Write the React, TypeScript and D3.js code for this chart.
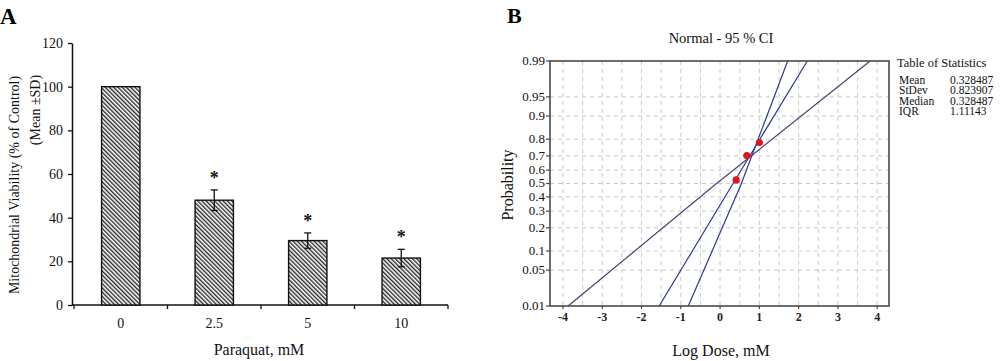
import React, { useEffect, useRef } from "react";
import * as d3 from "d3";

// panel A: mitochondrial viability
const doses = ["0", "2.5", "5", "10"];
const viability = [100, 48, 29.5, 21.5];
const viabilitySd = [0, 4.7, 3.5, 4];
const significant = [false, true, true, true];
const viabilityTicks = [0, 20, 40, 60, 80, 100, 120];

// panel B: normal probability plot
const probTicks = [0.01, 0.05, 0.1, 0.2, 0.3, 0.4, 0.5, 0.6, 0.7, 0.8, 0.9, 0.95, 0.99];
const logDoseTicks = [-4, -3, -2, -1, 0, 1, 2, 3, 4];
const fitDose = [-1.55, 0.33, 2.22];
const fitProb = [0.01, 0.5, 0.99];
const ciSteepDose = [-0.81, 0.53, 1.72];
const ciSteepProb = [0.01, 0.49, 0.99];
const ciWideDose = [-3.87, -0.13, 3.82];
const ciWideProb = [0.01, 0.49, 0.99];
const pointDose = [0.41, 0.68, 1.0];
const pointProb = [0.527, 0.702, 0.782];
const statNames = ["Mean", "StDev", "Median", "IQR"];
const statValues = ["0.328487", "0.823907", "0.328487", "1.11143"];

const FONT = "'Liberation Serif', 'DejaVu Serif', serif";

// inverse normal CDF (Acklam)
const probit = (p: number) => {
  const a = [-39.6968302866538, 220.946098424521, -275.928510446969, 138.357751867269, -30.6647980661472, 2.50662827745924];
  const b = [-54.4760987982241, 161.585836858041, -155.698979859887, 66.8013118877197, -13.2806815528857];
  const c = [-0.00778489400243029, -0.322396458041136, -2.40075827716184, -2.54973253934373, 4.37466414146497, 2.93816398269878];
  const d = [0.00778469570904146, 0.32246712907004, 2.445134137143, 3.75440866190742];
  const pl = 0.02425;
  if (p < pl) {
    const q = Math.sqrt(-2 * Math.log(p));
    return (((((c[0] * q + c[1]) * q + c[2]) * q + c[3]) * q + c[4]) * q + c[5]) / ((((d[0] * q + d[1]) * q + d[2]) * q + d[3]) * q + 1);
  }
  if (p > 1 - pl) {
    const q = Math.sqrt(-2 * Math.log(1 - p));
    return -(((((c[0] * q + c[1]) * q + c[2]) * q + c[3]) * q + c[4]) * q + c[5]) / ((((d[0] * q + d[1]) * q + d[2]) * q + d[3]) * q + 1);
  }
  const q = p - 0.5;
  const r = q * q;
  return ((((((a[0] * r + a[1]) * r + a[2]) * r + a[3]) * r + a[4]) * r + a[5]) * q) / (((((b[0] * r + b[1]) * r + b[2]) * r + b[3]) * r + b[4]) * r + 1);
};

const App = () => {
  const ref = useRef<SVGSVGElement>(null);

  useEffect(() => {
    const svg = d3.select(ref.current);
    svg.selectAll("*").remove();

    // hatch pattern
    const defs = svg.append("defs");
    defs
      .append("pattern")
      .attr("id", "hatch")
      .attr("patternUnits", "userSpaceOnUse")
      .attr("width", 3)
      .attr("height", 3)
      .attr("patternTransform", "rotate(-45)")
      .call((p) => p.append("rect").attr("width", 3).attr("height", 3).attr("fill", "#fff"))
      .append("line")
      .attr("x1", 0.7)
      .attr("y1", 0)
      .attr("x2", 0.7)
      .attr("y2", 3)
      .attr("stroke", "#1a1a1a")
      .attr("stroke-width", 1.3);

    // ---------- panel A ----------
    const a = svg.append("g");
    a.append("text").attr("x", 0).attr("y", 24).text("A")
      .style("font-family", FONT).style("font-weight", "bold").style("font-size", "23px");

    const x = d3.scaleBand().domain(doses).range([74, 448]).paddingInner(0.59).paddingOuter(0.295);
    const y = d3.scaleLinear().domain([0, 120]).range([305, 43]);

    const yAxis = a.append("g").attr("transform", "translate(72,0)")
      .call(d3.axisLeft(y).tickValues(viabilityTicks).tickSize(4).tickSizeOuter(0).tickPadding(5));
    yAxis.select(".domain").attr("stroke", "#111").attr("stroke-width", 1.5);
    yAxis.selectAll(".tick line").attr("stroke", "#111").attr("stroke-width", 1.3);
    yAxis.selectAll("text").style("font-family", FONT).style("font-size", "14px").attr("fill", "#111");

    // x axis with ticks at band boundaries
    a.append("line").attr("x1", 72).attr("x2", x.range()[1]).attr("y1", y(0)).attr("y2", y(0))
      .attr("stroke", "#111").attr("stroke-width", 1.5);
    const bounds = doses.map((d) => x(d)! + x.bandwidth() / 2 - x.step() / 2);
    bounds.push(bounds[bounds.length - 1] + x.step());
    a.selectAll(".xt").data(bounds).join("line")
      .attr("x1", (d) => d).attr("x2", (d) => d).attr("y1", y(0)).attr("y2", y(0) + 4)
      .attr("stroke", "#111").attr("stroke-width", 1.3);
    a.selectAll(".xl").data(doses).join("text")
      .attr("x", (d) => x(d)! + x.bandwidth() / 2).attr("y", 328).attr("text-anchor", "middle")
      .text((d) => d).style("font-family", FONT).style("font-size", "14px").attr("fill", "#111");

    const bars = doses.map((d, i) => ({ d, v: viability[i], sd: viabilitySd[i], sig: significant[i] }));
    a.selectAll(".bar").data(bars).join("rect")
      .attr("x", (b) => x(b.d)!).attr("width", x.bandwidth())
      .attr("y", (b) => y(b.v)).attr("height", (b) => y(0) - y(b.v))
      .attr("fill", "url(#hatch)").attr("stroke", "#111").attr("stroke-width", 1.4);

    const err = bars.filter((b) => b.sd > 0);
    const eb = a.selectAll(".err").data(err).join("g").attr("stroke", "#111").attr("stroke-width", 1.3);
    eb.append("line").attr("x1", (b) => x(b.d)! + x.bandwidth() / 2).attr("x2", (b) => x(b.d)! + x.bandwidth() / 2)
      .attr("y1", (b) => y(b.v + b.sd)).attr("y2", (b) => y(b.v - b.sd));
    [1, -1].forEach((s) => {
      eb.append("line").attr("x1", (b) => x(b.d)! + x.bandwidth() / 2 - 3.5).attr("x2", (b) => x(b.d)! + x.bandwidth() / 2 + 3.5)
        .attr("y1", (b) => y(b.v + s * b.sd)).attr("y2", (b) => y(b.v + s * b.sd));
    });
    a.selectAll(".star").data(bars.filter((b) => b.sig)).join("text")
      .attr("x", (b) => x(b.d)! + x.bandwidth() / 2).attr("y", (b) => y(b.v + b.sd) - 6)
      .attr("text-anchor", "middle").text("*")
      .style("font-family", FONT).style("font-size", "18px").style("font-weight", "bold").attr("fill", "#111");

    a.append("text").attr("transform", "translate(19,185) rotate(-90)").attr("text-anchor", "middle")
      .text("Mitochondrial Viability (% of Control)")
      .style("font-family", FONT).style("font-size", "14px").attr("fill", "#111");
    a.append("text").attr("transform", "translate(40,110) rotate(-90)").attr("text-anchor", "middle")
      .text("(Mean ±SD)")
      .style("font-family", FONT).style("font-size", "14px").attr("fill", "#111");
    a.append("text").attr("x", 259).attr("y", 355).attr("text-anchor", "middle").text("Paraquat, mM")
      .style("font-family", FONT).style("font-size", "16px").attr("fill", "#111");

    // ---------- panel B ----------
    const b = svg.append("g");
    b.append("text").attr("x", 507).attr("y", 23).text("B")
      .style("font-family", FONT).style("font-weight", "bold").style("font-size", "22px");

    const xb = d3.scaleLinear().domain([-4.33, 4.3]).range([550, 889]);
    const zb = d3.scaleLinear().domain([probit(0.01), probit(0.99)]).range([306, 61]);
    const yb = (p: number) => zb(probit(p));

    // grid
    const gridX = d3.range(-4, 4.01, 0.5);
    b.selectAll(".gx").data(gridX).join("line")
      .attr("x1", (d) => xb(d)).attr("x2", (d) => xb(d)).attr("y1", 61).attr("y2", 306)
      .attr("stroke", "#c9c9c9").attr("stroke-dasharray", "4,4").attr("stroke-width", 1);
    b.selectAll(".gy").data(probTicks.slice(1, -1)).join("line")
      .attr("x1", 550).attr("x2", 889).attr("y1", (d) => yb(d)).attr("y2", (d) => yb(d))
      .attr("stroke", "#c9c9c9").attr("stroke-dasharray", "4,4").attr("stroke-width", 1);

    // lines
    const line = d3.line<[number, number]>().x((d) => xb(d[0])).y((d) => yb(d[1]));
    const series = [
      { dose: ciWideDose, prob: ciWideProb, color: "#3d4770" },
      { dose: fitDose, prob: fitProb, color: "#2e3a8c" },
      { dose: ciSteepDose, prob: ciSteepProb, color: "#2e3a8c" },
    ];
    b.selectAll(".ln").data(series).join("path")
      .attr("d", (s) => line(s.dose.map((d, i) => [d, s.prob[i]] as [number, number])))
      .attr("fill", "none").attr("stroke", (s) => s.color).attr("stroke-width", 1.2);

    b.selectAll(".pt").data(pointDose).join("circle")
      .attr("cx", (d) => xb(d)).attr("cy", (d, i) => yb(pointProb[i])).attr("r", 3.6)
      .attr("fill", "#e3141b");

    // frame
    b.append("rect").attr("x", 550).attr("y", 61).attr("width", 339).attr("height", 245)
      .attr("fill", "none").attr("stroke", "#4a4a4a").attr("stroke-width", 1.6);

    // axes
    b.selectAll(".yt").data(probTicks).join("line")
      .attr("x1", 546).attr("x2", 550).attr("y1", (d) => yb(d)).attr("y2", (d) => yb(d))
      .attr("stroke", "#4a4a4a").attr("stroke-width", 1.2);
    b.selectAll(".yl").data(probTicks).join("text")
      .attr("x", 545).attr("y", (d) => yb(d)).attr("dy", "0.3em").attr("text-anchor", "end")
      .text((d) => String(d)).style("font-family", FONT).style("font-size", "13px").attr("fill", "#111");
    b.selectAll(".xt").data(logDoseTicks).join("line")
      .attr("x1", (d) => xb(d)).attr("x2", (d) => xb(d)).attr("y1", 306).attr("y2", 309)
      .attr("stroke", "#4a4a4a").attr("stroke-width", 1.2);
    b.selectAll(".xl").data(logDoseTicks).join("text")
      .attr("x", (d) => xb(d)).attr("y", 321).attr("text-anchor", "middle")
      .text((d) => String(d)).style("font-family", FONT).style("font-size", "12px").style("font-weight", "bold").attr("fill", "#222");

    b.append("text").attr("x", 721).attr("y", 43).attr("text-anchor", "middle").text("Normal - 95 % CI")
      .style("font-family", FONT).style("font-size", "14.5px").attr("fill", "#111");
    b.append("text").attr("transform", "translate(513,185) rotate(-90)").attr("text-anchor", "middle")
      .text("Probability").style("font-family", FONT).style("font-size", "16px").attr("fill", "#111");
    b.append("text").attr("x", 721).attr("y", 356).attr("text-anchor", "middle").text("Log Dose, mM")
      .style("font-family", FONT).style("font-size", "16px").attr("fill", "#111");

    // table of statistics
    b.append("text").attr("x", 897).attr("y", 67).text("Table of Statistics")
      .style("font-family", FONT).style("font-size", "12.5px").attr("fill", "#111");
    b.selectAll(".sn").data(statNames).join("text")
      .attr("x", 899).attr("y", (d, i) => 84 + i * 10.4).text((d) => d)
      .style("font-family", FONT).style("font-size", "11.5px").attr("fill", "#111");
    b.selectAll(".sv").data(statValues).join("text")
      .attr("x", 950).attr("y", (d, i) => 84 + i * 10.4).text((d) => d)
      .style("font-family", FONT).style("font-size", "11.5px").attr("fill", "#111");
  }, []);

  return (
    <svg
      ref={ref}
      width={1000}
      height={361}
      style={{ position: "absolute", left: 0, top: 0, background: "#fff" }}
    />
  );
};

export default App;
